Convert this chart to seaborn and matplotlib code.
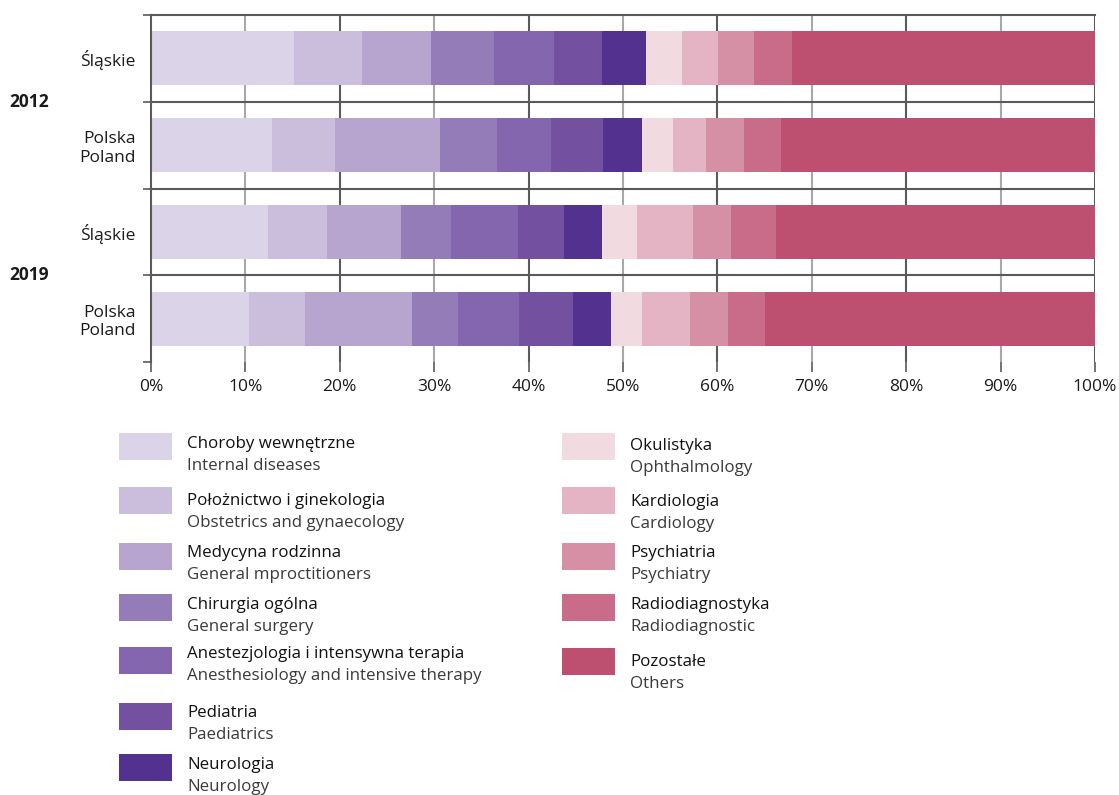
import pandas as pd
import numpy as np
import matplotlib.pyplot as plt
from matplotlib.patches import Rectangle
import seaborn as sns

# rows (top to bottom)
rows = ['Śląskie 2012', 'Polska 2012', 'Śląskie 2019', 'Polska 2019']
row_labels = ['Śląskie', 'Polska\nPoland', 'Śląskie', 'Polska\nPoland']
years = ['2012', '2019']

specialties_pl = ['Choroby wewnętrzne', 'Położnictwo i ginekologia', 'Medycyna rodzinna',
                  'Chirurgia ogólna', 'Anestezjologia i intensywna terapia', 'Pediatria',
                  'Neurologia', 'Okulistyka', 'Kardiologia', 'Psychiatria',
                  'Radiodiagnostyka', 'Pozostałe']
specialties_en = ['Internal diseases', 'Obstetrics and gynaecology', 'General mproctitioners',
                  'General surgery', 'Anesthesiology and intensive therapy', 'Paediatrics',
                  'Neurology', 'Ophthalmology', 'Cardiology', 'Psychiatry',
                  'Radiodiagnostic', 'Others']

# shares in %, one list per row
slaskie_2012 = [15.1, 7.2, 7.4, 6.6, 6.4, 5.1, 4.6, 3.8, 3.9, 3.8, 4.0, 32.1]
polska_2012 = [12.8, 6.7, 11.1, 6.0, 5.8, 5.5, 4.1, 3.3, 3.5, 4.0, 3.9, 33.3]
slaskie_2019 = [12.4, 6.2, 7.9, 5.3, 7.1, 4.8, 4.1, 3.7, 5.9, 4.0, 4.8, 33.8]
polska_2019 = [10.4, 5.9, 11.3, 4.9, 6.5, 5.7, 4.0, 3.3, 5.1, 4.0, 3.9, 35.0]

colors = ['#dbd3e8', '#cbbddc', '#b7a5cf', '#937cb7', '#8466ae', '#7351a0',
          '#52318f', '#f2dae1', '#e4b3c4', '#d690a6', '#c86c8a', '#bd4f70']

sns.set_theme(style='white')
plt.rcParams['font.family'] = ['Open Sans', 'DejaVu Sans']

data = np.array([slaskie_2012, polska_2012, slaskie_2019, polska_2019])
cum = np.cumsum(data, axis=1)
cum = cum / cum[:, -1:] * 100

fig = plt.figure(figsize=(11.19, 7.95), dpi=100)
ax = fig.add_axes([151 / 1119, 1 - 362 / 795, (1095 - 151) / 1119, 347 / 795])

# grid lines (alternating light / dark)
for i, v in enumerate(range(10, 101, 10)):
    ax.axvline(v, color='#a8a8a8' if i % 2 == 0 else '#5a5a5a', lw=1.5, zorder=0)

# stacked bars: draw cumulative totals from the back
for k in range(len(specialties_pl) - 1, -1, -1):
    df = pd.DataFrame({'row': rows, 'value': cum[:, k]})
    sns.barplot(data=df, x='value', y='row', order=rows, color=colors[k],
                orient='h', width=0.62, linewidth=0, saturation=1, ax=ax, zorder=2)

for y in [0.5, 1.5, 2.5]:
    ax.axhline(y, color='#5a5a5a', lw=1.5, zorder=1)

ax.set_xlim(0, 100)
ax.set_ylim(3.5, -0.5)
ax.set_xlabel('')
ax.set_ylabel('')
ax.set_xticks(range(0, 101, 10))
ax.set_xticklabels([f'{v}%' for v in range(0, 101, 10)], fontsize=12.5, color='#1a1a1a')
ax.set_yticks([-0.5, 0.5, 1.5, 2.5, 3.5])
ax.set_yticklabels([])
ax.set_yticks(range(4), minor=True)
ax.set_yticklabels(row_labels, minor=True, fontsize=12.5, color='#1a1a1a', ha='right')
ax.tick_params(axis='y', which='major', length=6, width=1.2, color='#5a5a5a', left=True)
ax.tick_params(axis='y', which='minor', length=0, pad=11)
ax.tick_params(axis='x', length=7, width=1.2, color='#5a5a5a', bottom=True, pad=5)
for s in ['bottom', 'right']:
    ax.spines[s].set_visible(False)
for s in ['top', 'left']:
    ax.spines[s].set_color('#5a5a5a')
    ax.spines[s].set_linewidth(1.5)

for yr, y in zip(years, [0.5, 2.5]):
    ax.text(-15.0, y, yr, fontsize=12.5, fontweight='bold', color='#1a1a1a',
            ha='left', va='center', transform=ax.transData, clip_on=False)

# legend drawn in pixel space
lg = fig.add_axes([0, 0, 1, 1])
lg.set_xlim(0, 1119)
lg.set_ylim(795, 0)
lg.axis('off')
lg.patch.set_alpha(0)

box_tops = [433, 487, 543, 594, 647, 703, 754, 433, 487, 543, 594, 648]
text_y = [444, 501, 553, 605, 654, 713, 765, 446, 502, 553, 605, 662]
for k in range(len(specialties_pl)):
    bx, tx = (119, 187) if k < 7 else (562, 630)
    lg.add_patch(Rectangle((bx, box_tops[k]), 53, 27, color=colors[k], lw=0))
    lg.text(tx, text_y[k], specialties_pl[k], fontsize=12.2, color='#111111', va='center')
    lg.text(tx, text_y[k] + 22, specialties_en[k], fontsize=12.2, color='#3a3a3a', va='center')

fig.savefig('out.png', dpi=100)
